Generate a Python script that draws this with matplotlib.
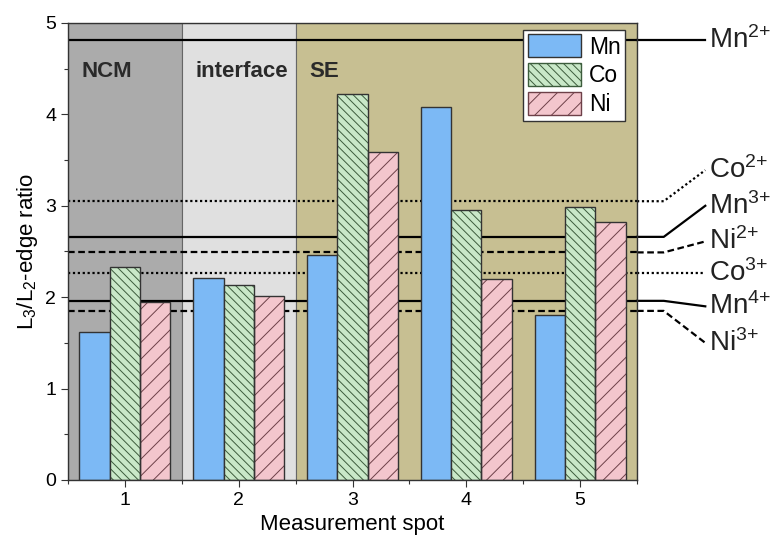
import numpy as np
import matplotlib
matplotlib.use("Agg")
import matplotlib.pyplot as plt
import matplotlib.transforms as mtransforms
from matplotlib.patches import Patch

plt.rcParams['font.family'] = ['Liberation Sans', 'DejaVu Sans']
plt.rcParams['mathtext.fontset'] = 'custom'
plt.rcParams['mathtext.rm'] = 'Liberation Sans'
plt.rcParams['mathtext.it'] = 'Liberation Sans'
plt.rcParams['hatch.linewidth'] = 0.7

# measurement spots and L3/L2 ratios
spots = [1, 2, 3, 4, 5]
mn = [1.62, 2.21, 2.46, 4.08, 1.81]
co = [2.33, 2.13, 4.22, 2.95, 2.99]
ni = [1.95, 2.01, 3.59, 2.20, 2.82]

# reference values of the ions
ions = ['Mn$^{2{+}}$', 'Co$^{2{+}}$', 'Mn$^{3{+}}$', 'Ni$^{2{+}}$',
        'Co$^{3{+}}$', 'Mn$^{4{+}}$', 'Ni$^{3{+}}$']
ion_values = [4.81, 3.05, 2.66, 2.49, 2.26, 1.96, 1.85]
ion_styles = ['-', ':', '-', '--', ':', '-', '--']
ion_label_y = [4.81, 3.39, 3.00, 2.61, 2.26, 1.90, 1.50]

# regions
regions = ['NCM', 'interface', 'SE']
region_bounds = [(0.5, 1.5), (1.5, 2.5), (2.5, 5.5)]
region_colors = ['#ababab', '#e0e0e0', '#c7bf92']


def style_line(ln, ls):
    if ls == '--':
        ln.set_dashes((3, 1.6))
    elif ls == ':':
        ln.set_dashes((1, 1.2))


fig = plt.figure(figsize=(7.71, 5.42), dpi=100)
ax = fig.add_axes([0.0882, 0.1144, 0.7380, 0.8432])

for name, (x0, x1), c in zip(regions, region_bounds, region_colors):
    ax.axvspan(x0, x1, facecolor=c, edgecolor='#666666', linewidth=0.8, zorder=0)
    ax.text(x0 + 0.12, 4.47, name, fontsize=16, fontweight='bold', color='#2a2a2a',
            va='center', ha='left', zorder=1)

for v, ls in zip(ion_values, ion_styles):
    ln = ax.axhline(v, color='black', linewidth=1.6, zorder=1)
    style_line(ln, ls)

x = np.array(spots, dtype=float)
w = 0.267
ax.bar(x - w, mn, w, color='#7cb9f5', edgecolor='#333333', linewidth=1, zorder=2)
ax.bar(x, co, w, color='#c9e8c8', edgecolor='#3c5c3c', hatch='\\\\\\\\', linewidth=0, zorder=2)
ax.bar(x, co, w, fill=False, edgecolor='#333333', linewidth=1, zorder=3)
ax.bar(x + w, ni, w, color='#f3c6cd', edgecolor='#6d4048', hatch='//', linewidth=0, zorder=2)
ax.bar(x + w, ni, w, fill=False, edgecolor='#333333', linewidth=1, zorder=3)

# leader lines to ion labels on the right
trans = mtransforms.blended_transform_factory(ax.transAxes, ax.transData)
for name, v, ls, ly in zip(ions, ion_values, ion_styles, ion_label_y):
    ln, = ax.plot([1.0, 1.047, 1.12], [v, v, ly], color='black', linewidth=1.6,
                  transform=trans, clip_on=False)
    style_line(ln, ls)
    ax.text(1.127, ly, name, transform=trans, fontsize=20, va='center', ha='left',
            color='#222222', clip_on=False)

ax.set_xlim(0.5, 5.5)
ax.set_ylim(0, 5)
ax.set_xticks(spots)
ax.set_xticks(np.arange(0.5, 5.6, 1), minor=True)
ax.set_yticks(np.arange(0, 6, 1))
ax.set_yticks(np.arange(0.5, 5, 1), minor=True)
ax.tick_params(which='both', direction='out', top=False, right=False, labelsize=14,
               color='#333333', width=0.8)
ax.tick_params(which='major', length=5)
ax.tick_params(which='minor', length=3)
for s in ax.spines.values():
    s.set_color('#333333')
    s.set_linewidth(1)
    s.set_zorder(5)

ax.set_xlabel('Measurement spot', fontsize=16, labelpad=4)
ax.set_ylabel('L$_3$/L$_2$-edge ratio', fontsize=16, labelpad=4)

handles = [Patch(facecolor='#7cb9f5', edgecolor='#333333', label='Mn'),
           Patch(facecolor='#c9e8c8', edgecolor='#3c5c3c', hatch='\\\\\\\\', label='Co'),
           Patch(facecolor='#f3c6cd', edgecolor='#6d4048', hatch='//', label='Ni')]
leg = ax.legend(handles=handles, loc='upper right', bbox_to_anchor=(0.979, 0.985),
                borderaxespad=0, fontsize=16.5, fancybox=False, framealpha=1,
                edgecolor='#333333', handlelength=2.3, handleheight=1.15,
                handletextpad=0.35, labelspacing=0.2, borderpad=0.2)
leg.set_zorder(6)
leg.get_frame().set_linewidth(1)

fig.savefig('out.png', dpi=100)
